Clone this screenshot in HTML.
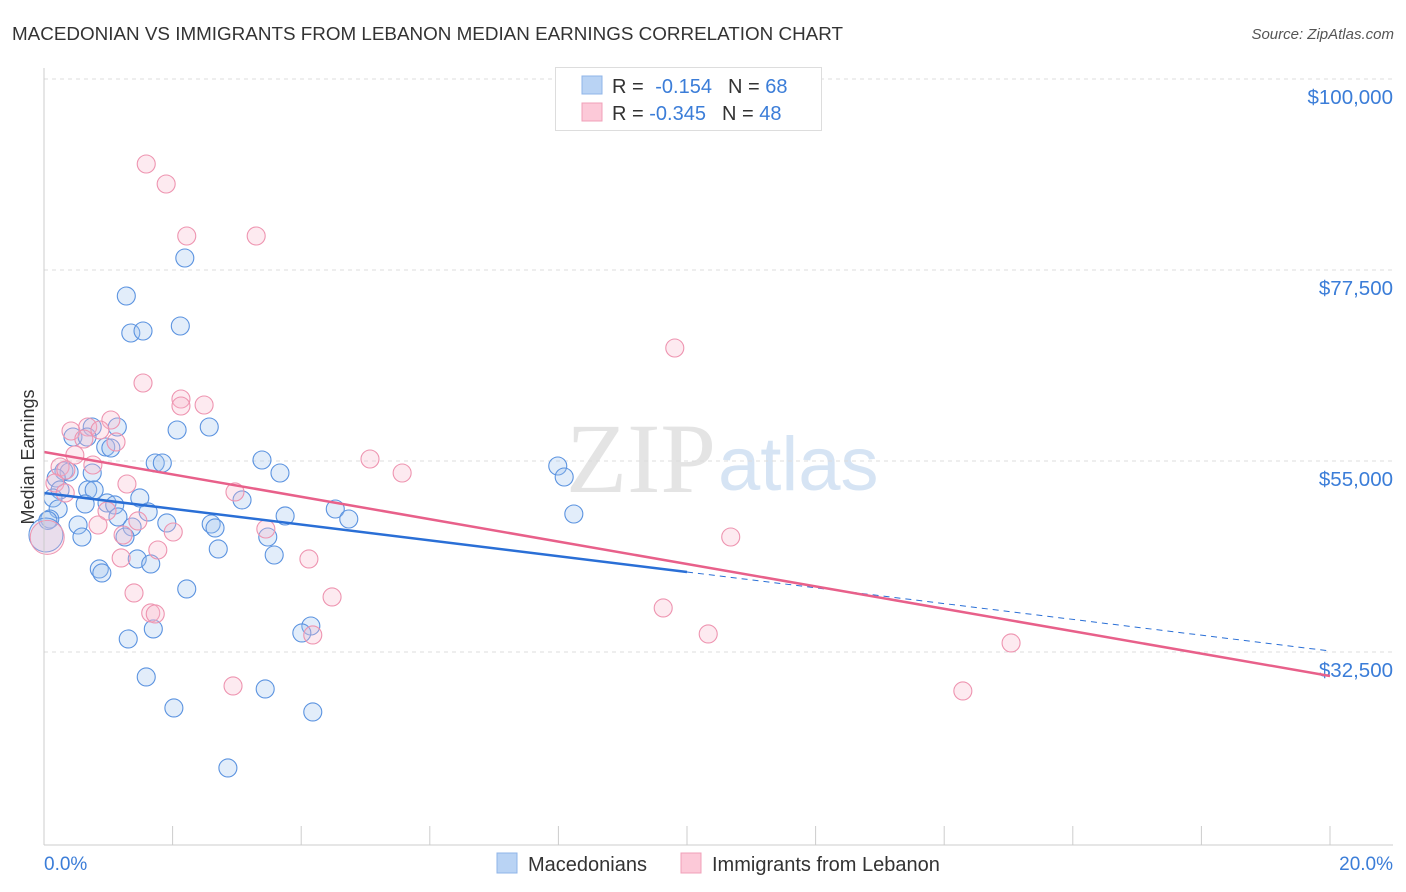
<!DOCTYPE html>
<html><head><meta charset="utf-8"><style>
body{margin:0;background:#fff;font-family:"Liberation Sans",sans-serif;}
#wrap{position:relative;width:1406px;height:892px;overflow:hidden;}
</style></head><body>
<div id="wrap">
<svg id="svg" width="1406" height="892" xmlns="http://www.w3.org/2000/svg">
<text x="12" y="40" font-size="18" fill="#333" textLength="831" lengthAdjust="spacingAndGlyphs">MACEDONIAN VS IMMIGRANTS FROM LEBANON MEDIAN EARNINGS CORRELATION CHART</text>
<text x="1394" y="39" font-size="15" fill="#555" font-style="italic" text-anchor="end">Source: ZipAtlas.com</text>
<text x="716" y="492" font-size="100" fill="#e4e4e4" text-anchor="end" font-family="Liberation Serif">ZIP</text>
<text x="718" y="490" font-size="76" fill="#d6e4f4">atlas</text>
<text transform="translate(34,457) rotate(-90)" font-size="18" fill="#333" text-anchor="middle">Median Earnings</text>
<g id="grid"></g><g id="pts"></g><g id="lines"></g>
<line x1="44" y1="68" x2="44" y2="845" stroke="#ccc"/>
<line x1="44" y1="845" x2="1393" y2="845" stroke="#ccc"/>
<g id="ticks"></g>
<text x="44" y="870" font-size="19" fill="#3b7dd8">0.0%</text>
<text x="1393" y="870" font-size="19" fill="#3b7dd8" text-anchor="end">20.0%</text>
<g>
<rect x="555.5" y="67.5" width="266" height="63" fill="#fff" stroke="#ddd"/>
<rect x="582" y="76" width="20" height="18" fill="#b9d3f4" stroke="#8fb4e8"/>
<rect x="582" y="103" width="20" height="18" fill="#fcc9d8" stroke="#f0a0b8"/>
<text x="612" y="93" font-size="20" fill="#333">R = <tspan fill="#3b7dd8" dx="6">-0.154</tspan><tspan dx="16" fill="#333">N = </tspan><tspan fill="#3b7dd8">68</tspan></text>
<text x="612" y="120" font-size="20" fill="#333">R = <tspan fill="#3b7dd8" dx="0">-0.345</tspan><tspan dx="16" fill="#333">N = </tspan><tspan fill="#3b7dd8">48</tspan></text>
</g>
<g>
<rect x="497" y="853" width="20" height="20" fill="#b9d3f4" stroke="#8fb4e8"/>
<text x="528" y="871" font-size="20" fill="#333">Macedonians</text>
<rect x="681" y="853" width="20" height="20" fill="#fcc9d8" stroke="#f0a0b8"/>
<text x="712" y="871" font-size="20" fill="#333">Immigrants from Lebanon</text>
</g>
</svg>
</div>
<script>
const yTicks=[100000,77500,55000,32500];
const yTickLabels=["$100,000","$77,500","$55,000","$32,500"];
const xTicks=[0,2,4,6,8,10,12,14,16,18,20];
const blueX=[2.19,1.28,1.35,1.54,2.12,0.75,1.14,2.07,2.57,0.45,0.67,0.96,1.04,1.73,1.84,3.39,3.67,7.99,8.09,0.31,0.39,0.75,0.19,0.25,0.68,0.78,1.49,0.98,1.10,0.64,0.14,0.22,0.09,1.62,1.15,3.08,3.75,4.53,4.74,8.24,0.53,1.91,2.60,2.66,1.37,0.59,1.26,3.48,2.71,3.58,1.45,1.66,0.86,0.90,2.22,1.70,4.15,4.01,1.31,1.59,3.44,2.02,4.18,2.86,0.06];
const blueY=[78914,74437,70078,70314,70903,59006,59006,58653,59006,57828,57828,56650,56532,54765,54765,55118,53587,54412,53116,53823,53705,53587,52998,51586,51586,51586,50643,50054,49819,49937,50643,49347,48169,48994,48405,50408,48523,49347,48169,48758,47462,47698,47580,47109,47226,46048,46048,46048,44635,43928,43457,42868,42279,41808,39923,35211,35564,34740,34033,29557,28143,25905,25434,18837,48000];
const pinkX=[1.59,1.90,2.22,3.30,9.81,1.54,2.13,2.13,2.49,1.04,0.42,0.68,0.87,1.12,0.62,0.48,5.07,5.57,0.76,0.25,0.34,0.17,1.29,2.97,0.33,0.98,1.46,0.84,3.45,2.01,10.68,1.23,1.77,1.20,4.12,1.40,4.48,1.66,1.73,9.63,4.18,10.33,15.04,2.94,14.29];
const pinkY=[89987,87631,81505,81505,68312,64189,62304,61480,61598,59831,58535,59006,58653,57240,57593,55707,55236,53587,54530,54294,53941,52409,52291,51350,51232,49112,47934,47462,46991,46637,46048,46284,44517,43575,43457,39452,38981,37096,36979,37686,34505,34622,33562,28497,27908];
const bigX=[0.03,0.05];const bigY=[46284,46000];
const blueTrend=[51231,41925,32619]; // at x=0, 10, 20
const pinkTrend=[56060,29674]; // at x=0, 20
const NS="http://www.w3.org/2000/svg";
const xs=v=>44+v*64.3;
const ys=v=>79+(100000-v)/22500*191;
function mk(tag,attrs,parent){const e=document.createElementNS(NS,tag);for(const k in attrs)e.setAttribute(k,attrs[k]);document.getElementById(parent).appendChild(e);return e;}
yTicks.forEach((t,i)=>{
 const l=mk('line',{x1:44,x2:1393,y1:ys(t),y2:ys(t),stroke:'#ddd','stroke-dasharray':'4,4'},'grid');
 
 
 const tx=mk('text',{x:1393,y:ys(t)+25,'font-size':20.5,fill:'#3b7dd8','text-anchor':'end'},'grid');
 tx.textContent=yTickLabels[i];
 
 
});
xTicks.forEach(t=>{
 const l=mk('line',{x1:xs(t),x2:xs(t),y1:826,y2:845,stroke:'#ccc'},'ticks');
 
 
});
blueX.forEach((x,i)=>{
 const c=mk('circle',{cx:xs(x),cy:ys(blueY[i]),r:9,fill:'rgba(160,196,240,0.3)',stroke:'#5b93e0','stroke-width':1.1},'pts');
 
 
});
pinkX.forEach((x,i)=>{
 const c=mk('circle',{cx:xs(x),cy:ys(pinkY[i]),r:9,fill:'rgba(250,185,205,0.3)',stroke:'#ee94b0','stroke-width':1.1},'pts');
 
 
});
bigX.forEach((x,i)=>{
 const c=mk('circle',{cx:xs(x),cy:ys(bigY[i]),r:17,fill:i?'rgba(250,185,205,0.3)':'rgba(160,196,240,0.3)',stroke:i?'#ee94b0':'#5b93e0','stroke-width':1},'pts');
 
 
});
const b1=mk('line',{x1:xs(0),y1:ys(blueTrend[0]),x2:xs(10),y2:ys(blueTrend[1]),stroke:'#2a6fd6','stroke-width':2.5},'lines');


const b2=mk('line',{x1:xs(10),y1:ys(blueTrend[1]),x2:xs(20),y2:ys(blueTrend[2]),stroke:'#2a6fd6','stroke-width':1,'stroke-dasharray':'6,5'},'lines');


const p1=mk('line',{x1:xs(0),y1:ys(pinkTrend[0]),x2:xs(20),y2:ys(pinkTrend[1]),stroke:'#e8608a','stroke-width':2.5},'lines');


</script>
</body></html>
